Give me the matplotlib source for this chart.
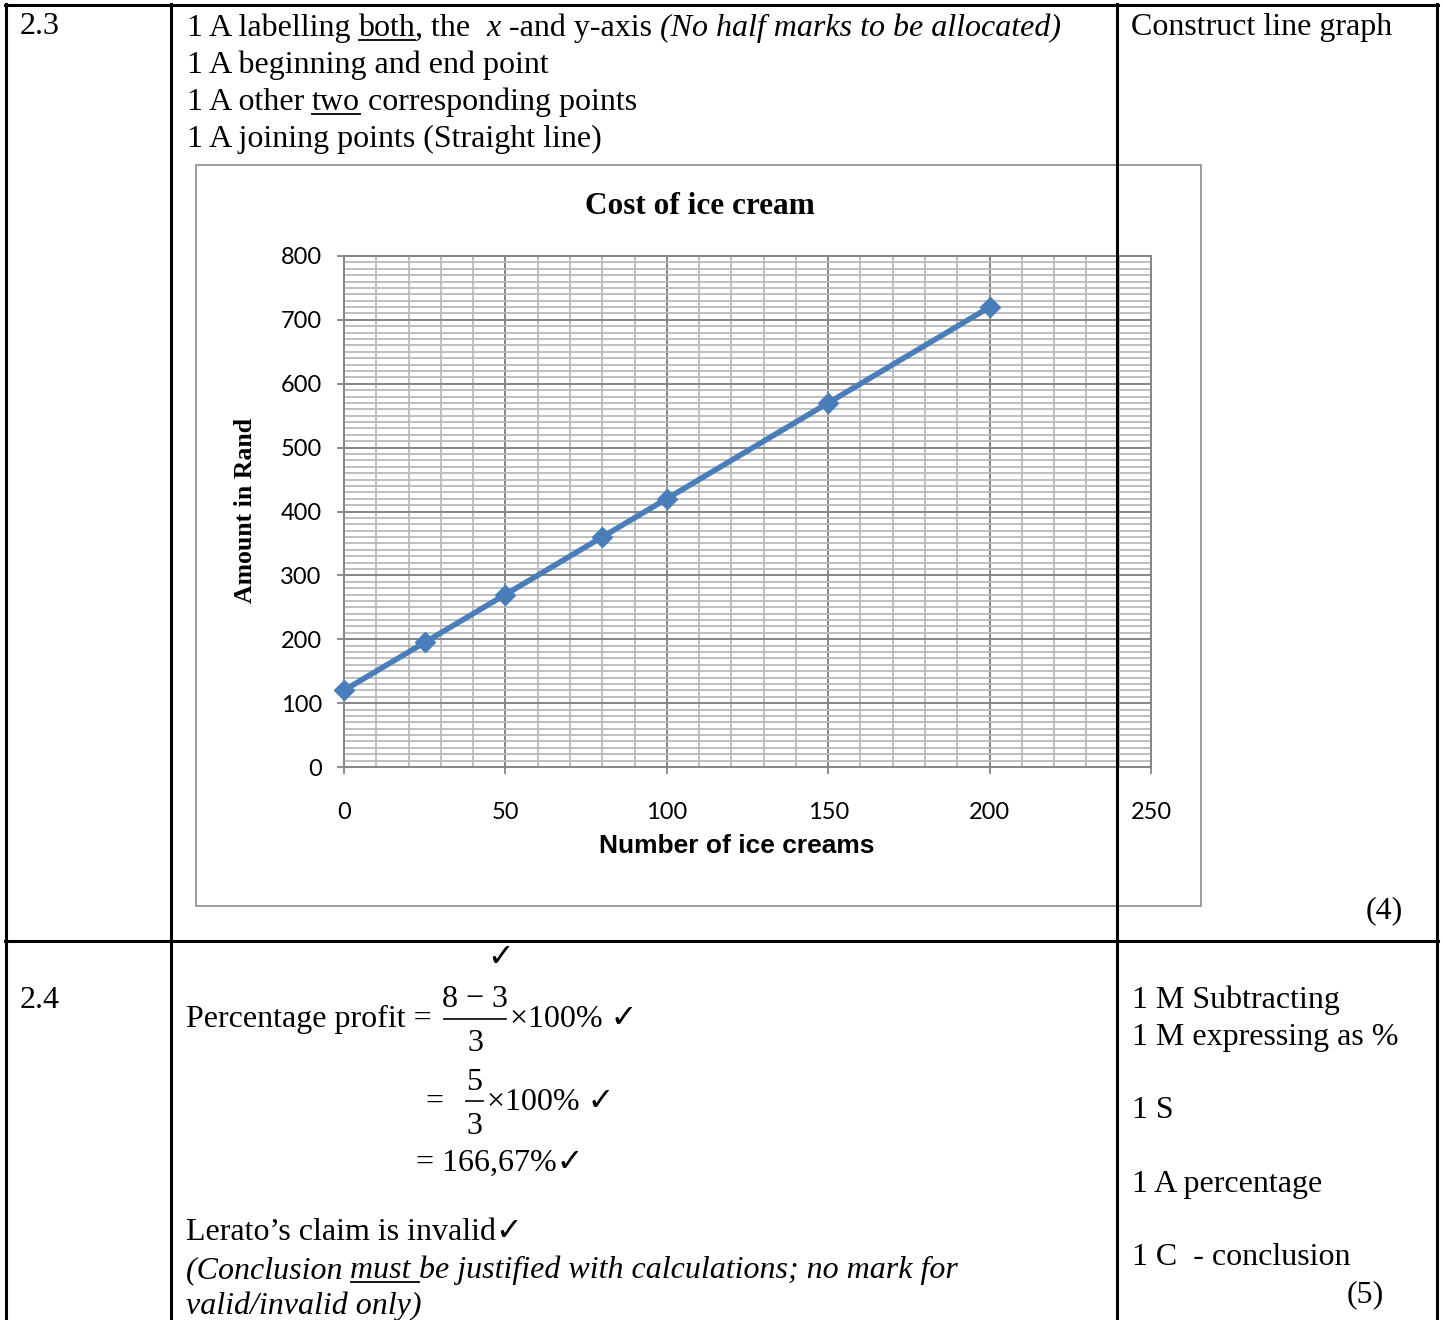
import matplotlib
matplotlib.use("Agg")
import matplotlib.pyplot as plt
from matplotlib import transforms
from matplotlib.lines import Line2D
from matplotlib.patches import Rectangle
from matplotlib.ticker import MultipleLocator

# chart data
ice_creams = [0, 25, 50, 80, 100, 150, 200]
amount_rand = [120, 195, 270, 360, 420, 570, 720]
x_ticks = [0, 50, 100, 150, 200, 250]
y_ticks = [0, 100, 200, 300, 400, 500, 600, 700, 800]

W, H = 1443, 1320
SERIF = ["Liberation Serif", "DejaVu Sans"]
BODY = 23

fig = plt.figure(figsize=(W / 100, H / 100), dpi=100)
# pixel coords, origin top-left
px = transforms.Affine2D().scale(1 / W, -1 / H).translate(0, 1) + fig.transFigure

# chart frame
fig.add_artist(Rectangle((196, 165), 1005, 741, transform=px, fill=False,
                         edgecolor="#8c8c8c", lw=1.2))

ax = fig.add_axes([344 / W, 1 - 767 / H, 807 / W, 511 / H])
ax.plot(ice_creams, amount_rand, color="#4a7ebb", lw=4, marker="D", ms=10.5,
        clip_on=False, zorder=3)
ax.set_xlim(0, 250)
ax.set_ylim(0, 800)
ax.set_xticks(x_ticks)
ax.set_yticks(y_ticks)
ax.xaxis.set_minor_locator(MultipleLocator(10))
ax.yaxis.set_minor_locator(MultipleLocator(10))
ax.grid(which="minor", color="#bababa", lw=1.3)
ax.grid(which="major", color="#858585", lw=1.4)
ax.set_axisbelow(True)
for s in ax.spines.values():
    s.set_color("#858585")
    s.set_linewidth(1.4)
ax.tick_params(which="minor", length=0)
ax.tick_params(which="major", length=5, width=1.3, color="#858585",
               labelsize=17, labelfontfamily="Lato")
ax.tick_params(axis="y", pad=11)
ax.tick_params(axis="x", pad=20)

ax.set_xlabel("Number of ice creams", fontsize=19, fontweight="bold",
              family="Liberation Sans", va="center")
ax.xaxis.set_label_coords((737 - 344) / 807, -(846 - 767) / 511)
ax.set_ylabel("Amount in Rand", fontsize=18.5, fontweight="bold",
              family="Liberation Serif", va="center")
ax.yaxis.set_label_coords((245 - 344) / 807, (767 - 510) / 511)
fig.text(700, 206, "Cost of ice cream", transform=px, ha="center", va="center",
         fontsize=22.5, fontweight="bold", family="Liberation Serif")

# table grid
def hline(y, x0, x1):
    fig.add_artist(Line2D([x0, x1], [y, y], transform=px, color="black", lw=2.2, zorder=5))

def vline(x, y0, y1):
    fig.add_artist(Line2D([x, x], [y0, y1], transform=px, color="black", lw=2.2, zorder=5))

hline(5, 5, 1438)
hline(941, 5, 1438)
vline(6, 4, 1320)
vline(171, 4, 1320)
vline(1117, 4, 1320)
vline(1437, 4, 1320)

renderer = fig.canvas.get_renderer()


def adv(s, **kw):
    t1 = fig.text(0, 0, "." + s + ".", **kw)
    t2 = fig.text(0, 0, "..", **kw)
    w = t1.get_window_extent(renderer).width - t2.get_window_extent(renderer).width
    t1.remove()
    t2.remove()
    return w


def txt(x, y, s, style="normal", ha="left", size=BODY):
    fig.text(x, y, s, transform=px, ha=ha, va="baseline", fontsize=size,
             family=SERIF, style=style)


def runs(x, y, parts, size=BODY):
    for s, style, ul in parts:
        kw = dict(fontsize=size, family=SERIF, style=style)
        fig.text(x, y, s, transform=px, ha="left", va="baseline", **kw)
        w = adv(s, **kw)
        if ul:
            fig.add_artist(Line2D([x, x + w], [y + 4, y + 4], transform=px,
                                  color="black", lw=1.3))
        x += w


# row 2.3
txt(20, 34, "2.3")
runs(187, 36, [("1 A labelling ", "normal", False), ("both", "normal", True),
               (", the  ", "normal", False), ("x", "italic", False),
               (" -and y-axis ", "normal", False),
               ("(No half marks to be allocated)", "italic", False)])
txt(187, 73, "1 A beginning and end point")
runs(187, 110, [("1 A other ", "normal", False), ("two", "normal", True),
                (" corresponding points", "normal", False)])
txt(187, 147, "1 A joining points (Straight line)")
txt(1131, 35, "Construct line graph")
txt(1403, 918, "(4)", ha="right")

# row 2.4
txt(20, 1008, "2.4")
txt(501, 966, "\u2713", ha="center")
txt(186, 1027, "Percentage profit =")
txt(475, 1007, "8 \u2212 3", ha="center")
fig.add_artist(Line2D([444, 506], [1019, 1019], transform=px, color="black", lw=1.2))
txt(475, 1051, "3", ha="center")
txt(510, 1027, "\u00d7100% \u2713")

txt(425, 1110, "=")
txt(474, 1090, "5", ha="center")
fig.add_artist(Line2D([466, 483], [1101, 1101], transform=px, color="black", lw=1.2))
txt(474, 1134, "3", ha="center")
txt(487, 1110, "\u00d7100% \u2713")
txt(416, 1171, "= 166,67%\u2713")

txt(186, 1240, "Lerato\u2019s claim is invalid\u2713")
runs(186, 1278, [("(Conclusion ", "italic", False), ("must ", "italic", True),
                 ("be justified with calculations; no mark for", "italic", False)])
txt(186, 1314, "valid/invalid only)", style="italic")

txt(1132, 1008, "1 M Subtracting")
txt(1132, 1045, "1 M expressing as %")
txt(1132, 1118, "1 S")
txt(1132, 1192, "1 A percentage")
txt(1132, 1265, "1 C  - conclusion")
txt(1384, 1302, "(5)", ha="right")

fig.savefig("out.png", dpi=100)
